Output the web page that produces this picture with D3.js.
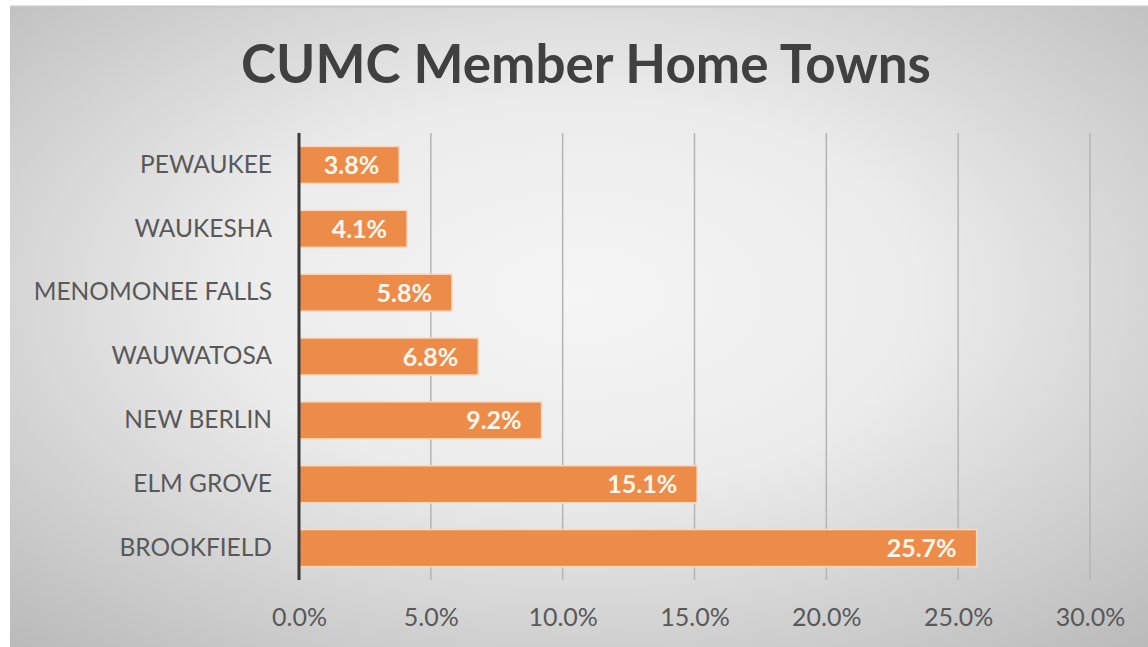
<!DOCTYPE html>
<html><head><meta charset="utf-8">
<script src="https://cdn.jsdelivr.net/npm/d3@7"></script>
<style>html,body{margin:0;padding:0;background:#fff;}svg{display:block;}</style>
</head><body>
<svg id="c" width="1148" height="647"></svg>
<script>
const categories = ["PEWAUKEE","WAUKESHA","MENOMONEE FALLS","WAUWATOSA","NEW BERLIN","ELM GROVE","BROOKFIELD"];
const values = [3.8, 4.1, 5.8, 6.8, 9.2, 15.1, 25.7];
const tickValues = [0, 5, 10, 15, 20, 25, 30];
const title = "CUMC Member Home Towns";

const svg = d3.select("#c");
const defs = svg.append("defs");
const rg = defs.append("radialGradient").attr("id","bg").attr("cx","50%").attr("cy","45%").attr("r","75%");
rg.append("stop").attr("offset","0%").attr("stop-color","#f5f5f5");
rg.append("stop").attr("offset","40%").attr("stop-color","#ececec");
rg.append("stop").attr("offset","100%").attr("stop-color","#b9b9b9");

svg.append("rect").attr("x",10).attr("y",6).attr("width",1138).attr("height",641).attr("fill","url(#bg)");
svg.append("line").attr("x1",10).attr("x2",1148).attr("y1",6.5).attr("y2",6.5).attr("stroke","#c8c8c8").attr("stroke-width",2);

const font = "Lato, 'Open Sans', sans-serif";
svg.append("text").attr("x",586).attr("y",83).attr("text-anchor","middle")
  .attr("font-family",font).attr("font-weight","bold").attr("font-size",53).attr("fill","#404040").text(title);

const x = d3.scaleLinear().domain([0,30]).range([299,1090]);
const y = d3.scaleBand().domain(categories).range([133,580]).paddingInner(0.42).paddingOuter(0.21);

const g = svg.append("g");
g.selectAll("line.grid").data(tickValues.slice(1)).join("line")
  .attr("x1",d=>x(d)).attr("x2",d=>x(d)).attr("y1",133).attr("y2",580)
  .attr("stroke","#b4b4b4").attr("stroke-width",1.5);

g.selectAll("rect.bar").data(values).join("rect")
  .attr("x",x(0)).attr("y",(d,i)=>y(categories[i]))
  .attr("width",d=>x(d)-x(0)).attr("height",y.bandwidth())
  .attr("fill","#ed8b49").attr("stroke","#fbd9bd").attr("stroke-width",1.5);

g.selectAll("text.val").data(values).join("text")
  .attr("x",d=>x(d)-20).attr("y",(d,i)=>y(categories[i])+y.bandwidth()/2)
  .attr("dy","0.36em").attr("text-anchor","end")
  .attr("font-family",font).attr("font-weight","bold").attr("font-size",25).attr("fill","#fff8f0")
  .text(d=>d.toFixed(1)+"%");

svg.append("line").attr("x1",x(0)).attr("x2",x(0)).attr("y1",133).attr("y2",580)
  .attr("stroke","#3a3a3a").attr("stroke-width",3);

const yAxis = d3.axisLeft(y).tickSize(0).tickPadding(27);
const ya = svg.append("g").attr("transform",`translate(${x(0)},0)`).call(yAxis);
ya.select(".domain").remove();
ya.selectAll("text").attr("font-family",font).attr("font-size",24.5).attr("fill","#595959");

const xAxis = d3.axisBottom(x).tickValues(tickValues).tickSize(0).tickPadding(28).tickFormat(d=>d.toFixed(1)+"%");
const xa = svg.append("g").attr("transform","translate(0,580)").call(xAxis);
xa.select(".domain").remove();
xa.selectAll("text").attr("font-family",font).attr("font-size",25).attr("fill","#595959");
</script>
</body></html>
